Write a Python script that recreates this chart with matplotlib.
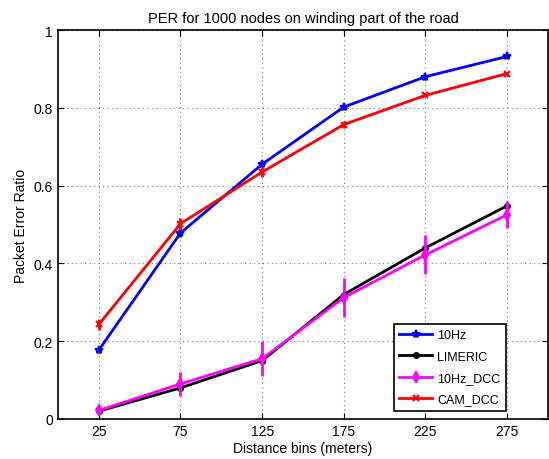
import matplotlib
matplotlib.use("Agg")
import matplotlib.pyplot as plt

plt.rcParams["font.family"] = ["Liberation Sans", "DejaVu Sans"]

bins = [25, 75, 125, 175, 225, 275]

per_10hz = [0.177, 0.478, 0.655, 0.802, 0.880, 0.932]
err_10hz = [0.008, 0.010, 0.008, 0.006, 0.005, 0.004]

per_limeric = [0.020, 0.080, 0.150, 0.320, 0.440, 0.548]
err_limeric = [0.004, 0.006, 0.008, 0.008, 0.007, 0.006]

per_10hz_dcc = [0.022, 0.090, 0.155, 0.312, 0.422, 0.525]
err_10hz_dcc = [0.010, 0.030, 0.045, 0.050, 0.050, 0.035]

per_cam_dcc = [0.243, 0.502, 0.635, 0.757, 0.832, 0.888]
err_cam_dcc = [0.015, 0.015, 0.012, 0.008, 0.005, 0.005]

fig = plt.figure(figsize=(5.49, 4.6), dpi=100)
ax = fig.add_axes([0.1056, 0.087, 0.8925, 0.8456])

series = [
    ("10Hz", per_10hz, err_10hz, "#0000ff", "*", 6),
    ("LIMERIC", per_limeric, err_limeric, "#000000", ".", 7),
    ("10Hz_DCC", per_10hz_dcc, err_10hz_dcc, "#ff00ff", "d", 5.5),
    ("CAM_DCC", per_cam_dcc, err_cam_dcc, "#ff0000", "x", 4),
]

handles = []
for name, vals, errs, color, mk, ms in series:
    ax.errorbar(bins, vals, yerr=errs, fmt="none", ecolor=color,
                elinewidth=2, capsize=0)
    ln, = ax.plot(bins, vals, color=color, marker=mk, markersize=ms,
                  markeredgewidth=1.5, linewidth=2, label=name)
    handles.append(ln)

ax.set_xlim(0, 300)
ax.set_ylim(0, 1)
ax.set_xticks(bins)
ax.set_yticks([0, 0.2, 0.4, 0.6, 0.8, 1])
ax.set_yticklabels(["0", "0.2", "0.4", "0.6", "0.8", "1"])
ax.tick_params(direction="in", top=True, right=True, labelsize=10, length=4)
ax.grid(True, linestyle=(0, (1, 3)), color="#777777", linewidth=0.8)
for s in ax.spines.values():
    s.set_linewidth(1.2)

ax.set_title("PER for 1000 nodes on winding part of the road", fontsize=10.5, pad=6)
ax.set_xlabel("Distance bins (meters)", fontsize=10, labelpad=2)
ax.set_ylabel("Packet Error Ratio", fontsize=10)

leg = ax.legend(handles=handles, loc="lower right", bbox_to_anchor=(0.914, 0.02),
                borderaxespad=0, fontsize=9, fancybox=False, framealpha=1,
                edgecolor="black", handlelength=2.6, handletextpad=0.4,
                labelspacing=0.75, borderpad=0.45)
leg.get_frame().set_linewidth(1.2)

fig.savefig("out.png", dpi=100, facecolor="white")
